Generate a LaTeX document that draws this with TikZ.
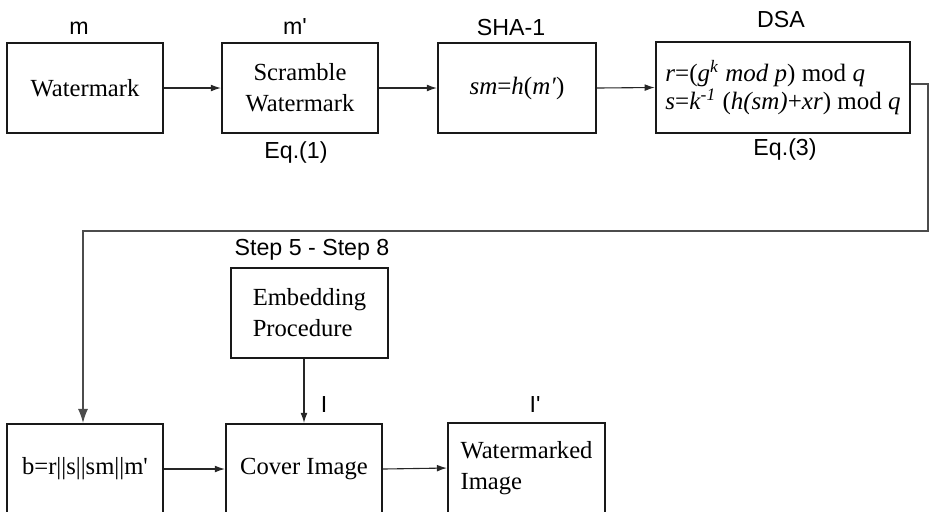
\documentclass[tikz,border=0pt]{standalone}
\usepackage{fontspec}
\setmainfont{Liberation Serif}
\newfontfamily\lsans{Liberation Sans}
\usetikzlibrary{arrows.meta}
\begin{document}
\begin{tikzpicture}[x=0.5pt,y=-0.5pt,
  box/.style={draw=black!90, line width=1.1pt, inner sep=0pt, font=\fontsize{12.3}{15.5}\selectfont},
  lab/.style={anchor=base, inner sep=0pt, font=\lsans\fontsize{11.6}{14}\selectfont},
  conn/.style={draw=black!85, line width=0.55pt, -{Latex[length=5pt,width=3.4pt]}},
  bigarr/.style={draw=black!85, line width=0.55pt, -{Latex[length=7pt,width=5pt]}}]
\useasboundingbox (0,0) rectangle (929,511);
% top row
\node[box, minimum width=78pt, minimum height=45pt] (wm) at (85,88) {Watermark};
\node[box, minimum width=78pt, minimum height=45pt, align=center] (scr) at (300,88) {Scramble\\Watermark};
\node[box, minimum width=79pt, minimum height=45pt, font=\fontsize{12.5}{15}\selectfont] (sha) at (517,88) {\raisebox{-2pt}{\textit{sm}=\textit{h}(\textit{m′})}};
\node[box, line width=1.3pt, minimum width=127pt, minimum height=45.5pt, align=left, font=\fontsize{12.5}{12.5}\selectfont] (dsa) at (783,87.5)
  {\textit{r}=(\textit{g}\textsuperscript{\textit{k}} \textit{mod p}) mod \textit{q}\\
   \textit{s}=\textit{k}\textsuperscript{\textit{-1}} (\textit{h(sm)}+\textit{xr}) mod \textit{q}};
% labels top
\node[lab] (lm) at (79,34) {m};
\node[lab] (lmp) at (295,34) {m\textquotesingle};
\node[lab] (lsha) at (511,35) {SHA-1};
\node[lab] (ldsa) at (781,27) {DSA};
\node[lab] (leq1) at (296,158) {Eq.(1)};
\node[lab] (leq3) at (785,155) {Eq.(3)};
% middle
\node[box, minimum width=78.5pt, minimum height=45pt, align=left] (emb) at (309.5,313) {Embedding\\Procedure};
\node[lab] (lstep) at (312,255) {Step 5 - Step 8};
% bottom row
\node[box, minimum width=78pt, minimum height=45pt] (bb) at (85,469) {b=r||s||sm||m\textquotesingle};
\node[box, minimum width=78pt, minimum height=45pt] (cov) at (304,469) {Cover Image};
\node[box, minimum width=78.5pt, minimum height=45pt, align=left] (wmi) at (526.5,468) {Watermarked\\Image};
\node[lab] (li) at (324,412) {I};
\node[lab] (lip) at (535,412) {I\textquotesingle};
% connectors
\draw[conn] (wm.east) -- (scr.west);
\draw[conn] (scr.east) -- (sha.west);
\draw[conn] (sha.east) -- (dsa.west);
\coordinate (c1) at (928,84);
\coordinate (c2) at (928,231);
\coordinate (c3) at (83,231);
\draw[bigarr, draw=black!70] (dsa.east |- c1) -- (c1) -- (c2) -- (c3) -- (c3 |- bb.north);
\draw[conn] (emb.south -| cov.north) -- (cov.north);
\draw[conn] (bb.east) -- (cov.west);
\draw[conn] (cov.east) -- (wmi.west);
\end{tikzpicture}
\end{document}
